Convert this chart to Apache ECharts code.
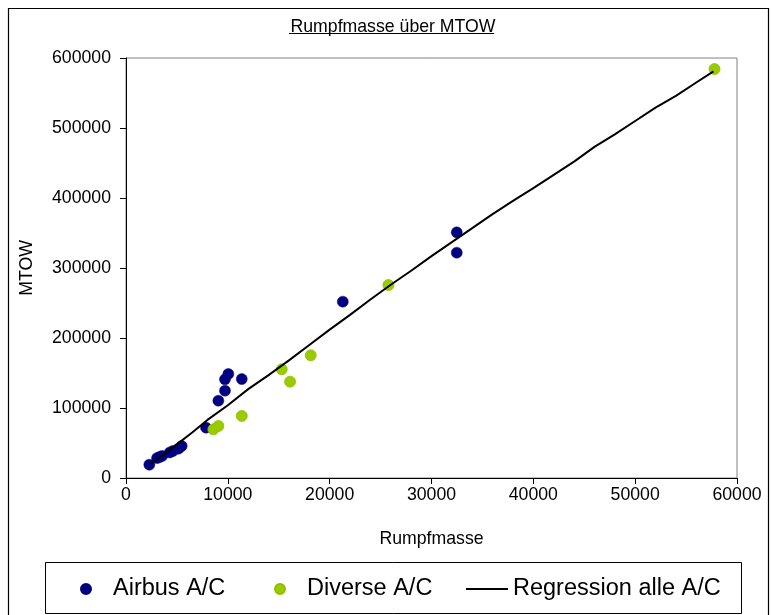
<!DOCTYPE html>
<html>
<head>
<meta charset="utf-8">
<script src="https://cdn.jsdelivr.net/npm/echarts@6/dist/echarts.min.js"></script>
<style>
  html, body { margin: 0; padding: 0; background: #ffffff; }
  #chart { width: 772px; height: 615px; }
</style>
</head>
<body>
<div id="chart"></div>
<script>
// Rumpfmasse [kg] and MTOW [kg] per aircraft type
const airbusMass = [2290, 3050, 3300, 3550, 4300, 4600, 5150, 5470, 7860, 9070, 9720, 9720, 10050, 11370, 21290, 32480, 32480];
const airbusMTOW = [19000, 28500, 30000, 31500, 36500, 38500, 41900, 45700, 71900, 110400, 124700, 141000, 148600, 141400, 251900, 351000, 321900];

const diverseMass = [8580, 9070, 11370, 15290, 16110, 18140, 25770, 57790];
const diverseMTOW = [69500, 74300, 88600, 155300, 137600, 175300, 275700, 584300];

// Regression over all aircraft
const regMass = [2360, 3500, 5000, 6500, 8000, 10000, 12000, 14000, 16000, 18000, 20000, 22000, 24000, 26000, 28000, 30000, 32000, 34000, 36000, 38000, 40000, 42000, 44000, 46000, 48000, 50000, 52000, 54000, 56000, 57690];
const regMTOW = [20000, 31000, 48000, 65000, 83000, 104000, 127000, 147000, 168000, 190000, 212000, 233000, 255000, 276000, 296000, 317000, 337000, 357000, 377000, 396000, 414000, 433000, 452000, 473000, 491000, 510000, 529000, 546000, 565000, 581000];

// Axis ticks
const xTicks = [0, 10000, 20000, 30000, 40000, 50000, 60000];
const yTicks = [0, 100000, 200000, 300000, 400000, 500000, 600000];

const titleText = 'Rumpfmasse über MTOW';
const xName = 'Rumpfmasse';
const yName = 'MTOW';
const seriesNames = ['Airbus A/C', 'Diverse A/C', 'Regression alle A/C'];

const FONT = "'Liberation Sans', Arial, sans-serif";
const zip = (xs, ys) => xs.map((x, i) => [x, ys[i]]);

const chart = echarts.init(document.getElementById('chart'), null, { renderer: 'canvas' });

const axisCommon = {
  type: 'value',
  splitLine: { show: false },
  axisLine: { show: true, onZero: false, lineStyle: { color: '#000000', width: 1 } },
  axisTick: { show: true, inside: false, length: 6, lineStyle: { color: '#000000', width: 1 } },
  nameLocation: 'middle',
  nameTextStyle: { color: '#000000', fontFamily: FONT, fontSize: 17.7 }
};

const legendText = { color: '#000000', fontFamily: FONT, fontSize: 23.5 };

chart.setOption({
  backgroundColor: '#ffffff',
  animation: false,
  title: {
    text: titleText,
    left: 388,
    top: 13,
    textAlign: 'center',
    textStyle: { color: '#000000', fontFamily: FONT, fontSize: 17.7, fontWeight: 'normal' }
  },
  grid: {
    left: 126, right: 35, top: 58, bottom: 137,
    show: true, borderColor: '#808080', borderWidth: 1, backgroundColor: 'transparent'
  },
  xAxis: Object.assign({}, axisCommon, {
    min: xTicks[0],
    max: xTicks[xTicks.length - 1],
    interval: xTicks[1] - xTicks[0],
    name: xName,
    nameGap: 52,
    axisLabel: {
      color: '#000000', fontFamily: FONT, fontSize: 17.7, margin: 8,
      formatter: v => String(v)
    }
  }),
  yAxis: Object.assign({}, axisCommon, {
    min: yTicks[0],
    max: yTicks[yTicks.length - 1],
    interval: yTicks[1] - yTicks[0],
    name: yName,
    nameGap: 90,
    axisLabel: {
      color: '#000000', fontFamily: FONT, fontSize: 17.7, margin: 15,
      formatter: v => String(v)
    }
  }),
  legend: [
    {
      data: [seriesNames[0]], left: 80, top: 577, padding: 0,
      itemWidth: 44, itemHeight: 10, icon: 'circle',
      textStyle: legendText
    },
    {
      data: [seriesNames[1]], left: 274, top: 577, padding: 0,
      itemWidth: 44, itemHeight: 10, icon: 'circle',
      textStyle: legendText
    },
    {
      data: [{ name: seriesNames[2], icon: 'path://M0,0L42,0L42,2L0,2Z' }],
      left: 466, top: 577, padding: 0,
      itemWidth: 42, itemHeight: 10,
      itemStyle: { color: '#000000' },
      textStyle: legendText
    }
  ],
  graphic: [
    // outer chart frame
    { type: 'rect', z: 100, silent: true,
      shape: { x: 8.5, y: 8.5, width: 760, height: 640 },
      style: { fill: null, stroke: '#000000', lineWidth: 1.2 } },
    // legend box
    { type: 'rect', z: 100, silent: true,
      shape: { x: 45.5, y: 562.5, width: 696, height: 51 },
      style: { fill: null, stroke: '#000000', lineWidth: 1 } },
    // title underline
    { type: 'line', z: 100, silent: true,
      shape: { x1: 289, y1: 33.5, x2: 494, y2: 33.5 },
      style: { stroke: '#000000', lineWidth: 1 } }
  ],
  series: [
    {
      name: seriesNames[0],
      type: 'scatter',
      symbol: 'circle',
      symbolSize: 11,
      itemStyle: { color: '#000080', borderColor: '#000080', borderWidth: 0.5, opacity: 1 },
      data: zip(airbusMass, airbusMTOW),
      z: 2
    },
    {
      name: seriesNames[1],
      type: 'scatter',
      symbol: 'circle',
      symbolSize: 11,
      itemStyle: { color: '#99cc00', borderColor: '#8fbf00', borderWidth: 0.8, opacity: 1 },
      data: zip(diverseMass, diverseMTOW),
      z: 2
    },
    {
      name: seriesNames[2],
      type: 'line',
      symbol: 'none',
      smooth: false,
      lineStyle: { color: '#000000', width: 2 },
      itemStyle: { color: '#000000' },
      data: zip(regMass, regMTOW),
      z: 3
    }
  ]
});
</script>
</body>
</html>
